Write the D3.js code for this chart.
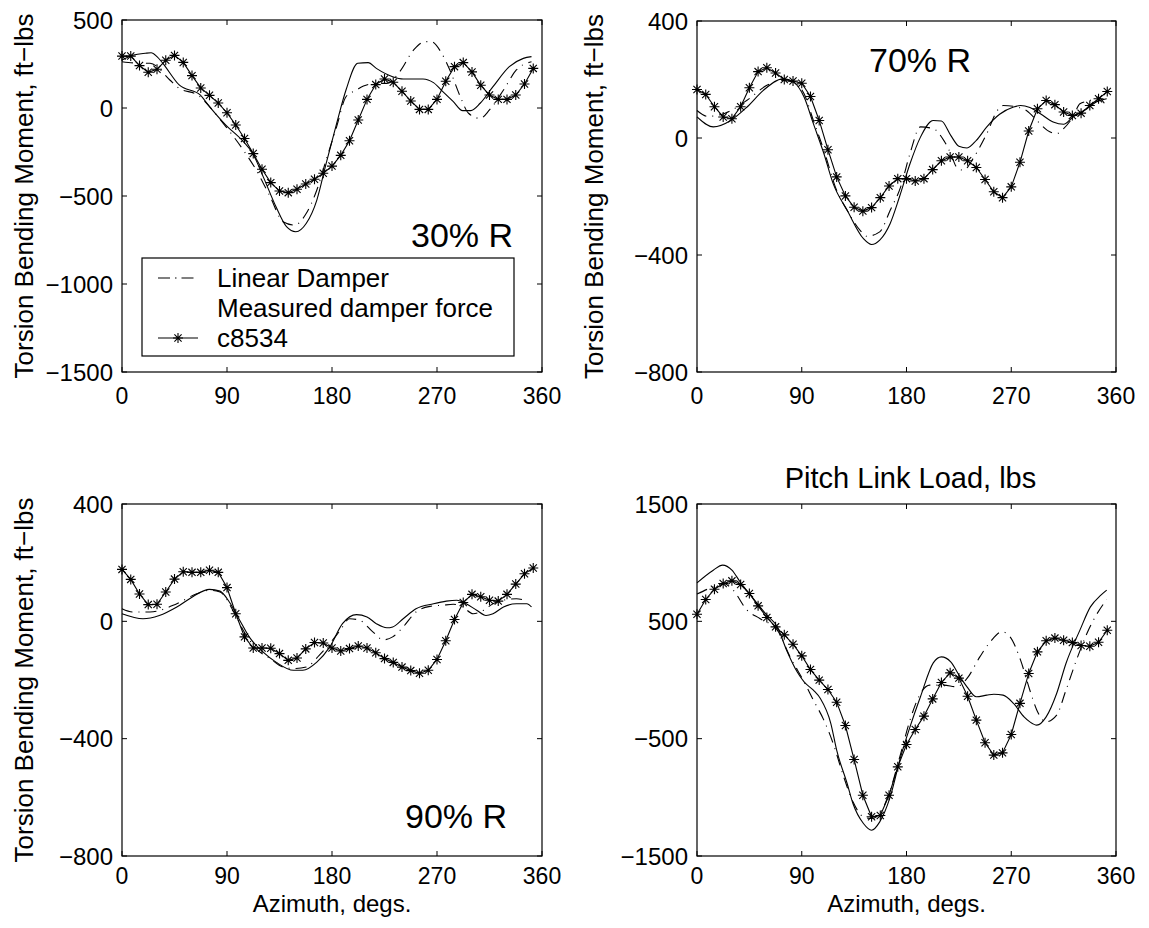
<!DOCTYPE html>
<html lang="en">
<head>
<meta charset="utf-8">
<style type="text/css">
    body { margin: 0; background: #fff; }
    text { font-family: "Liberation Sans", Arial, sans-serif; fill: #000; }
    .frame { fill: none; stroke: #000; stroke-width: 1.2; }
    .tick { stroke: #000; stroke-width: 1; }
    .series { fill: none; stroke: #000; stroke-width: 1.1; }
</style>
</head>
<body>
<svg width="1149" height="928"></svg>
<script src="https://d3js.org/d3.v7.min.js"></script>
<script type="text/javascript">

// azimuth of the c8534 samples (degs)
var starAz = [0, 7.5, 15, 22.5, 30, 37.5, 45, 52.5, 60, 67.5, 75, 82.5, 90, 97.5, 105, 112.5,
    120, 127.5, 135, 142.5, 150, 157.5, 165, 172.5, 180, 187.5, 195, 202.5, 210, 217.5, 225, 232.5,
    240, 247.5, 255, 262.5, 270, 277.5, 285, 292.5, 300, 307.5, 315, 322.5, 330, 337.5, 345, 352.5];
var xTicks = [0, 90, 180, 270, 360];

// 30% R
var r30C8534 = [295, 295, 241, 203, 220, 271, 299, 259, 184, 114, 72, 28, -27, -97, -173, -259,
    -348, -424, -472, -481, -462, -432, -405, -371, -330, -269, -186, -68, 49, 133, 165, 146,
    95, 40, -8, -8, 49, 152, 235, 258, 205, 129, 74, 49, 49, 74, 136, 225];
var r30Measured = [[0, 273], [10, 301], [20, 311], [25, 314], [30, 292], [35, 254], [49, 131], [67, 74],
    [75, 8], [89, -97], [104, -191], [112, -258], [121, -390], [132, -561], [141, -674], [149, -703],
    [158, -655], [167, -523], [175, -314], [184, -87], [192, 102], [202, 254], [211, 258], [218, 225],
    [232, 178], [241, 165], [258, 165], [267, 144], [275, 93], [284, 36], [292, -15], [299, -15],
    [307, 27], [318, 121], [332, 235], [344, 282], [351, 292]];
var r30Linear = [[0, 263], [18, 254], [24, 254], [41, 159], [47, 121], [67, 64], [75, 8], [89, -106],
    [104, -239], [115, -352], [127, -504], [138, -646], [148, -665], [158, -598], [167, -466], [175, -295],
    [184, -106], [192, 64], [201, 102], [207, 125], [218, 140], [227, 140], [238, 206], [250, 330],
    [260, 377], [265, 377], [274, 311], [281, 216], [290, 64], [297, -30], [307, -59], [315, -11],
    [327, 102], [338, 216], [351, 263]];
var r30Ticks = [500, 0, -500, -1000, -1500];

// 70% R
var r70C8534 = [166, 149, 107, 72, 66, 107, 172, 227, 240, 222, 200, 195, 187, 142, 60, -40,
    -133, -198, -237, -250, -238, -204, -164, -139, -139, -147, -139, -108, -78, -65, -65, -78,
    -101, -142, -184, -204, -167, -83, 24, 100, 128, 114, 89, 77, 85, 111, 134, 159];
var r70Measured = [[0, 72], [14, 38], [29, 60], [43, 106], [57, 163], [69, 197], [74, 203], [83, 191],
    [92, 140], [100, 49], [109, -53], [117, -156], [129, -247], [143, -344], [150, -364], [157, -349],
    [166, -292], [174, -201], [183, -88], [192, 3], [203, 60], [210, 58], [218, 9], [225, -28],
    [232, -34], [240, -8], [249, 38], [260, 81], [272, 106], [278, 111], [286, 104], [295, 83],
    [306, 55], [315, 47], [323, 72], [335, 100], [343, 123], [352, 134]];
var r70Linear = [[0, 94], [9, 74], [23, 83], [43, 129], [60, 180], [72, 197], [83, 191], [92, 151],
    [100, 60], [109, -42], [120, -179], [129, -247], [140, -315], [146, -336], [157, -321], [166, -247],
    [175, -167], [183, -53], [192, 38], [203, 32], [212, -8], [218, -53], [223, -99], [229, -110],
    [238, -65], [243, -31], [249, 15], [258, 94], [263, 111], [275, 106], [283, 94], [292, 60],
    [301, 26], [309, 15], [315, 32], [323, 72], [329, 117], [338, 129], [344, 140], [352, 106]];
var r70Ticks = [400, 0, -400, -800];

// 90% R
var r90C8534 = [177, 143, 93, 57, 58, 100, 144, 169, 167, 167, 174, 167, 115, 26, -53, -91,
    -91, -92, -110, -133, -125, -94, -72, -74, -91, -101, -93, -84, -91, -107, -127, -140,
    -156, -168, -177, -167, -130, -66, 6, 64, 92, 84, 72, 69, 92, 127, 162, 182];
var r90Measured = [[0, 26], [18, 9], [32, 20], [47, 49], [61, 85], [75, 109], [84, 103], [92, 66],
    [101, 3], [109, -53], [121, -105], [132, -139], [147, -167], [155, -167], [167, -139], [178, -88],
    [189, -8], [201, 23], [210, 15], [218, -8], [227, -22], [232, -19], [241, 9], [252, 43],
    [267, 60], [278, 69], [287, 72], [295, 60], [304, 38], [312, 20], [318, 26], [327, 49],
    [338, 60], [347, 60], [351, 49]];
var r90Linear = [[0, 43], [9, 32], [24, 32], [47, 60], [64, 94], [75, 106], [84, 100], [95, 38],
    [104, -31], [115, -93], [127, -127], [138, -156], [149, -161], [158, -156], [169, -116], [178, -76],
    [187, -31], [195, 9], [204, 3], [215, -36], [224, -63], [232, -53], [241, -19], [252, 32],
    [264, 51], [275, 55], [284, 58], [292, 49], [301, 26], [310, 38], [318, 60], [327, 72],
    [338, 77], [345, 72]];
var r90Ticks = [400, 0, -400, -800];

// Pitch link load
var pllC8534 = [561, 686, 774, 822, 845, 814, 737, 632, 533, 453, 385, 305, 206, 89, -1, -81,
    -189, -388, -678, -982, -1166, -1155, -982, -740, -550, -422, -308, -161, -21, 61, 16, -138,
    -342, -535, -640, -621, -464, -199, 56, 240, 334, 357, 339, 319, 294, 288, 322, 424];
var pllMeasured = [[0, 828], [14, 936], [22, 979], [30, 936], [37, 837], [46, 723], [60, 553], [69, 453],
    [77, 254], [86, 70], [92, -16], [100, -87], [106, -158], [115, -371], [120, -598], [129, -882],
    [134, -1053], [143, -1223], [150, -1280], [157, -1209], [166, -996], [175, -655], [183, -400], [192, -143],
    [203, 146], [210, 197], [218, 155], [226, 27], [232, -58], [240, -143], [249, -129], [255, -121],
    [263, -129], [272, -200], [281, -314], [286, -357], [292, -385], [300, -314], [309, -115], [317, 141],
    [329, 425], [338, 623], [347, 723], [352, 766]];
var pllLinear = [[0, 732], [14, 794], [23, 822], [31, 766], [43, 595], [54, 524], [69, 425], [80, 197],
    [92, -16], [100, -172], [109, -342], [117, -541], [126, -825], [134, -1038], [143, -1166], [150, -1180],
    [157, -1138], [166, -939], [175, -627], [183, -342], [192, -115], [200, -44], [212, -44], [223, -58],
    [232, 13], [243, 197], [252, 325], [262, 411], [269, 368], [278, 169], [286, -87], [292, -257],
    [300, -357], [309, -300], [317, -87], [326, 169], [335, 396], [343, 553], [352, 686]];
var pllTicks = [1500, 500, -500, -1500];

var legendNames = ["Linear Damper", "Measured damper force", "c8534"];

var svg = d3.select("svg");
var dashDot = "11,6,1,6";
var starPath = "M-5,0H5M0,-5V5M-3.6,-3.6L3.6,3.6M-3.6,3.6L3.6,-3.6";
var fmt = function (v) { return d3.format("d")(v); };

var panels = [
    {x0: 122, x1: 542, y0: 20, y1: 372, dom: [-1500, 500], ticks: r30Ticks,
     lin: r30Linear, meas: r30Measured, stars: r30C8534, xtOff: 32,
     ylab: "Torsion Bending Moment, ft\u2212lbs", ylabX: 33,
     note: "30% R", noteX: 462, noteY: 247, legend: true},
    {x0: 697, x1: 1116, y0: 21, y1: 372, dom: [-800, 400], ticks: r70Ticks,
     lin: r70Linear, meas: r70Measured, stars: r70C8534, xtOff: 32,
     ylab: "Torsion Bending Moment, ft\u2212lbs", ylabX: 603,
     note: "70% R", noteX: 920, noteY: 72},
    {x0: 122, x1: 542, y0: 504, y1: 856, dom: [-800, 400], ticks: r90Ticks,
     lin: r90Linear, meas: r90Measured, stars: r90C8534, xtOff: 28,
     ylab: "Torsion Bending Moment, ft\u2212lbs", ylabX: 33,
     note: "90% R", noteX: 456, noteY: 828, xlab: "Azimuth, degs."},
    {x0: 697, x1: 1116, y0: 504, y1: 856, dom: [-1500, 1500], ticks: pllTicks,
     lin: pllLinear, meas: pllMeasured, stars: pllC8534, xtOff: 28,
     title: "Pitch Link Load, lbs", xlab: "Azimuth, degs."}
];

panels.forEach(function (p) {
    var x = d3.scaleLinear().domain([0, 360]).range([p.x0, p.x1]);
    var y = d3.scaleLinear().domain(p.dom).range([p.y1, p.y0]);
    var g = svg.append("g");
    var tl = 5;

    // inward ticks on all four sides
    xTicks.forEach(function (t) {
        g.append("line").attr("class", "tick")
            .attr("x1", x(t)).attr("x2", x(t)).attr("y1", p.y1).attr("y2", p.y1 - tl);
        g.append("line").attr("class", "tick")
            .attr("x1", x(t)).attr("x2", x(t)).attr("y1", p.y0).attr("y2", p.y0 + tl);
        g.append("text").attr("x", x(t)).attr("y", p.y1 + p.xtOff)
            .attr("text-anchor", "middle").style("font-size", "23px").text(t);
    });
    p.ticks.forEach(function (t) {
        g.append("line").attr("class", "tick")
            .attr("x1", p.x0).attr("x2", p.x0 + tl).attr("y1", y(t)).attr("y2", y(t));
        g.append("line").attr("class", "tick")
            .attr("x1", p.x1).attr("x2", p.x1 - tl).attr("y1", y(t)).attr("y2", y(t));
        g.append("text").attr("x", p.x0 - 9).attr("y", y(t)).attr("dy", "0.36em")
            .attr("text-anchor", "end").style("font-size", "24px").text(fmt(t));
    });

    var line = d3.line()
        .x(function (d) { return x(d[0]); })
        .y(function (d) { return y(d[1]); })
        .curve(d3.curveMonotoneX);

    g.append("path").attr("class", "series")
        .attr("d", line(p.lin))
        .style("stroke-dasharray", dashDot);
    g.append("path").attr("class", "series")
        .attr("d", line(p.meas));

    var starData = starAz.map(function (a, i) { return [a, p.stars[i]]; });
    g.append("path").attr("class", "series")
        .attr("d", d3.line()
            .x(function (d) { return x(d[0]); })
            .y(function (d) { return y(d[1]); })(starData));
    g.selectAll(".star")
        .data(starData)
        .enter()
        .append("path")
        .attr("class", "series")
        .attr("d", starPath)
        .attr("transform", function (d) { return "translate(" + x(d[0]) + "," + y(d[1]) + ")"; });

    g.append("rect").attr("class", "frame")
        .attr("x", p.x0).attr("y", p.y0)
        .attr("width", p.x1 - p.x0).attr("height", p.y1 - p.y0);

    if (p.ylab) {
        g.append("text")
            .attr("transform", "translate(" + p.ylabX + "," + ((p.y0 + p.y1) / 2) + ") rotate(-90)")
            .attr("text-anchor", "middle").style("font-size", "26px").text(p.ylab);
    }
    if (p.xlab) {
        g.append("text").attr("x", (p.x0 + p.x1) / 2).attr("y", p.y1 + 56)
            .attr("text-anchor", "middle").style("font-size", "24px").text(p.xlab);
    }
    if (p.title) {
        g.append("text").attr("x", (p.x0 + p.x1) / 2 + 4).attr("y", p.y0 - 16)
            .attr("text-anchor", "middle").style("font-size", "29px").text(p.title);
    }
    if (p.note) {
        g.append("text").attr("x", p.noteX).attr("y", p.noteY)
            .attr("text-anchor", "middle").style("font-size", "34px").text(p.note);
    }

    if (p.legend) {
        var lg = g.append("g");
        lg.append("rect").attr("x", 142).attr("y", 258).attr("width", 372).attr("height", 98)
            .style("fill", "#fff").style("stroke", "#000").style("stroke-width", 1.2);
        legendNames.forEach(function (name, i) {
            var by = 287 + i * 30;
            lg.append("text").attr("x", 217).attr("y", by).style("font-size", "26px").text(name);
            if (i === 0) {
                lg.append("line").attr("class", "series")
                    .attr("x1", 158).attr("x2", 198).attr("y1", by - 9).attr("y2", by - 9)
                    .style("stroke-dasharray", "12,5,1.5,5");
            }
            if (i === 2) {
                lg.append("line").attr("class", "series")
                    .attr("x1", 158).attr("x2", 198).attr("y1", by - 9).attr("y2", by - 9);
                lg.append("path").attr("class", "series").attr("d", starPath)
                    .attr("transform", "translate(178," + (by - 9) + ")");
            }
        });
    }
});

</script>
</body>
</html>
